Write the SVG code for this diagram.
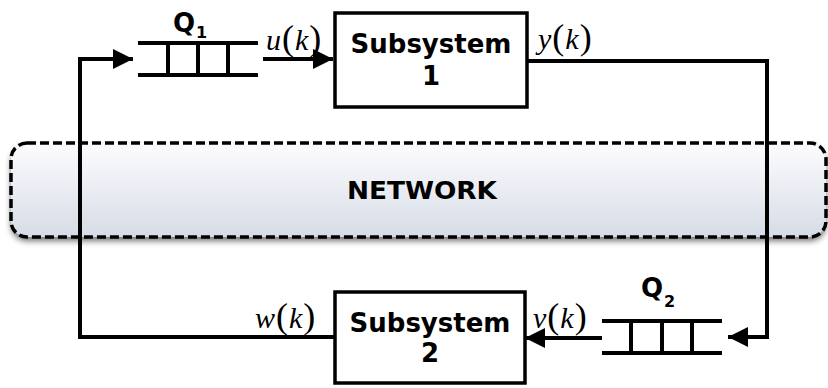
<svg xmlns="http://www.w3.org/2000/svg" width="828" height="388" viewBox="0 0 828 388">
<style>
.wire{fill:none;stroke:#000;stroke-width:4}
.q{fill:none;stroke:#000;stroke-width:4}
.box{fill:#fff;stroke:#000;stroke-width:3.5}
.lbl{font-family:"DejaVu Sans",Verdana,sans-serif;font-weight:bold;font-size:26px;fill:#000;text-anchor:middle}
.qn{font-family:"DejaVu Sans",Verdana,sans-serif;font-weight:bold;font-size:26px;fill:#000}
.qs{font-family:"DejaVu Sans",Verdana,sans-serif;font-weight:bold;font-size:16px;fill:#000}
.m{font-family:"Liberation Serif","Times New Roman",serif;font-style:italic;font-size:30px;fill:#000;letter-spacing:1px}
.p{font-family:"Liberation Serif","Times New Roman",serif;font-style:normal;font-size:36px}
.net{font-family:"DejaVu Sans",Verdana,sans-serif;font-weight:bold;font-size:24px;fill:#000;text-anchor:middle}
</style>
<defs>
<linearGradient id="ng" x1="0" y1="0" x2="0" y2="1">
<stop offset="0" stop-color="#fcfcfe"/>
<stop offset="1" stop-color="#d6dce6"/>
</linearGradient>
<filter id="bl" x="-5%" y="-30%" width="110%" height="160%">
<feGaussianBlur stdDeviation="3"/>
</filter>
<marker id="ah" markerWidth="20" markerHeight="20" viewBox="0 0 20 20" refX="20" refY="10" orient="auto" markerUnits="userSpaceOnUse">
<path d="M0,0 L20,10 L0,20 Z" fill="#000"/>
</marker>
</defs>
<rect width="828" height="388" fill="#fff"/>
<g id="network">
<rect x="11" y="147" width="815" height="94" rx="16" ry="16" fill="#000" opacity="0.55" filter="url(#bl)"/>
<rect x="11" y="143" width="815" height="94" rx="16" ry="16" fill="url(#ng)" stroke="#000" stroke-width="3.5" stroke-dasharray="9,4"/>
<text class="net" x="422" y="199" textLength="150" lengthAdjust="spacingAndGlyphs">NETWORK</text>
</g>
<g id="connectors">
<path class="wire" d="M335,337 H80 V59 H133" marker-end="url(#ah)"/>
<path class="wire" d="M263,59 H333" marker-end="url(#ah)"/>
<path class="wire" d="M527,61 H767 V337 H728" marker-end="url(#ah)"/>
<path class="wire" d="M602,338 H525" marker-end="url(#ah)"/>
</g>
<g id="q1">
<path class="q" d="M138,43 H258 M138,75 H258 M168,43 V75 M198,43 V75 M228,43 V75"/>
<text class="qn" x="173" y="32">Q</text>
<text class="qs" x="196" y="38">1</text>
</g>
<g id="q2">
<path class="q" d="M602,321 H722 M602,353 H722 M631,321 V353 M662,321 V353 M692,321 V353"/>
<text class="qn" x="641" y="297">Q</text>
<text class="qs" x="664" y="307">2</text>
</g>
<g id="subsystem1">
<rect class="box" x="335" y="13" width="192" height="94"/>
<text class="lbl" x="431" y="53">Subsystem</text>
<text class="lbl" x="431" y="85">1</text>
</g>
<g id="subsystem2">
<rect class="box" x="335" y="292" width="190" height="91"/>
<text class="lbl" x="430" y="332">Subsystem</text>
<text class="lbl" x="430" y="362">2</text>
</g>
<g id="labels">
<text class="m" x="266" y="50">u<tspan class="p">(</tspan>k<tspan class="p">)</tspan></text>
<text class="m" x="538" y="49">y<tspan class="p">(</tspan>k<tspan class="p">)</tspan></text>
<text class="m" x="255" y="328">w<tspan class="p">(</tspan>k<tspan class="p">)</tspan></text>
<text class="m" x="533" y="328">v<tspan class="p">(</tspan>k<tspan class="p">)</tspan></text>
</g>
</svg>
